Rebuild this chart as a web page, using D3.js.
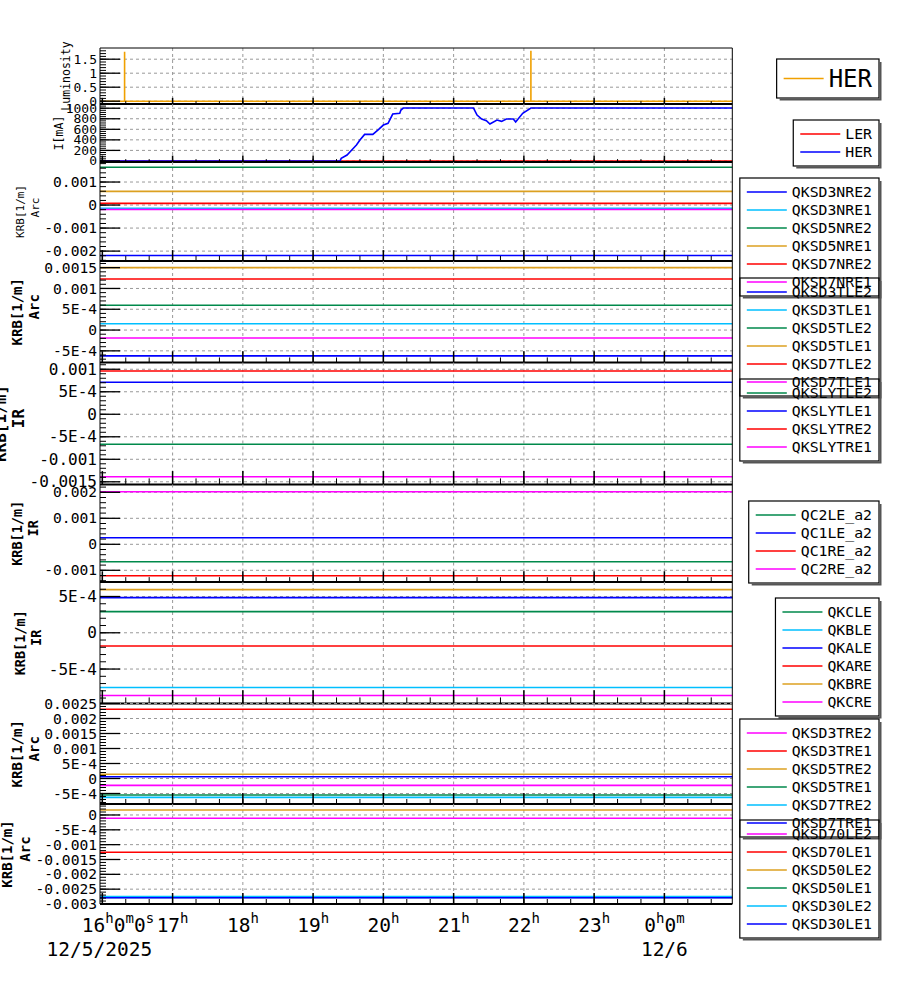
<!DOCTYPE html>
<html><head><meta charset="utf-8">
<script src="https://cdn.jsdelivr.net/npm/d3@7"></script>
<style>
body{margin:0;background:#fff}
svg{font-family:"DejaVu Sans Mono",monospace}
</style></head><body>
<svg id="chart" width="900" height="984"></svg>
<script>
// time window shown on the x axis
const tStart = "15:58", tEnd = "00:58"

// luminosity (HER) - flat zero with two short spikes
const lumiTimes = ["15:58","16:19","16:19","16:19","22:06","22:06","22:06","00:58"]
const lumiHER = [0, 0, 1.77, 0, 0, 1.8, 0, 0]

// beam currents
const curTimes = ["15:58","19:23","19:24","19:29","19:33","19:37","19:40","19:44","19:51","19:56","20:00","20:04",
  "20:08","20:14","20:15","20:17","21:17","21:20","21:24","21:28","21:31","21:37","21:41","21:45","21:51","21:53",
  "21:59","22:06","00:58"]
const curHER = [0,0,49,112,207,302,396,504,504,599,681,713,
  889,903,965,1003,1003,870,795,762,700,776,751,795,795,738,
  903,1003,1003]
const curLERTimes = ["15:58","00:58"]
const curLER = [0, 0]

// skew quad strengths, constant over the window
const arcNRNames = ["QKSD3NRE2","QKSD3NRE1","QKSD5NRE2","QKSD5NRE1","QKSD7NRE2","QKSD7NRE1"]
const arcNRValues = [-0.00219, -0.00014, 0.00164, 0.000596, 0.000074, -0.00019]

const arcTLNames = ["QKSD3TLE2","QKSD3TLE1","QKSD5TLE2","QKSD5TLE1","QKSD7TLE2","QKSD7TLE1"]
const arcTLValues = [-0.00062, 0.00015, 0.000595, 0.0015, 0.001226, -0.00019]

const irLYNames = ["QKSLYTLE2","QKSLYTLE1","QKSLYTRE2","QKSLYTRE1"]
const irLYValues = [-0.000667, 0.000711, 0.000962, -0.001387]

const irQCNames = ["QC2LE_a2","QC1LE_a2","QC1RE_a2","QC2RE_a2"]
const irQCValues = [-0.00067, 0.000254, -0.00121, 0.00202]

const irQKNames = ["QKCLE","QKBLE","QKALE","QKARE","QKBRE","QKCRE"]
const irQKValues = [0.000292, -0.000755, 0.000485, -0.000182, 0.000595, -0.000865]

const arcTRNames = ["QKSD3TRE2","QKSD3TRE1","QKSD5TRE2","QKSD5TRE1","QKSD7TRE2","QKSD7TRE1"]
const arcTRValues = [-0.00023, 0.00231, 0.00014, -0.00055, -0.00063, 0.00006]

const arcOLNames = ["QKSD70LE2","QKSD70LE1","QKSD50LE2","QKSD50LE1","QKSD30LE2","QKSD30LE1"]
const arcOLValues = [-0.00011, -0.001257, 0.000169, -0.00278, -0.00275, -0.00279]

// y tick values
const lumiTicks = [0, 0.5, 1, 1.5]
const curTicks = [0, 200, 400, 600, 800, 1000]
const arcNRTicks = [-0.002, -0.001, 0, 0.001]
const arcTLTicks = [-0.0005, 0, 0.0005, 0.001, 0.0015]
const irLYTicks = [-0.0015, -0.001, -0.0005, 0, 0.0005, 0.001]
const irQCTicks = [-0.001, 0, 0.001, 0.002]
const irQKTicks = [-0.0005, 0, 0.0005]
const arcTRTicks = [-0.0005, 0, 0.0005, 0.001, 0.0015, 0.002, 0.0025]
const arcOLTicks = [-0.003, -0.0025, -0.002, -0.0015, -0.001, -0.0005, 0]

// x tick labels
const hourLabels = ["16h0m0s","17h","18h","19h","20h","21h","22h","23h","0h0m"]
const dateLabels = ["12/5/2025","","","","","","","","12/6"]

const C = {blue:"#0000ff", cyan:"#00bfff", green:"#00894b", gold:"#dca020", red:"#ff0000", magenta:"#ff00ff", orange:"#f0a000"}
const six1 = [C.blue, C.cyan, C.green, C.gold, C.red, C.magenta]

function tp(s){
    let [h, m] = s.split(":").map(Number)
    return new Date(2025, 11, h < 12 ? 6 : 5, h, m)
}
function flat(v){ return [{t: tp(tStart), v: v}, {t: tp(tEnd), v: v}] }
function zipSeries(times, vals){ return times.map((t, i) => ({t: tp(t), v: vals[i]})) }

const panels = [
    {top:48, bottom:104, domain:[-0.1,1.9], ticks:lumiTicks, tickSize:13,
     label:[{s:"Luminosity", x:70, dy:0}], labelSize:11.5, bold:false,
     series:[{name:"HER", color:C.orange, data:zipSeries(lumiTimes, lumiHER)}],
     legendTop:59, rowH:29, legendSize:24},
    {top:104, bottom:162, domain:[-20,1080], ticks:curTicks, tickSize:13,
     label:[{s:"I[mA]", x:63, dy:0}], labelSize:11.5, bold:false,
     series:[{name:"LER", color:C.red, data:zipSeries(curLERTimes, curLER)},
             {name:"HER", color:C.blue, data:zipSeries(curTimes, curHER)}],
     legendTop:120, rowH:18, legendSize:14.8},
    {top:162, bottom:261, domain:[-0.00243,0.00187], ticks:arcNRTicks, tickSize:14.6,
     label:[{s:"KRB[1/m]", x:24, dy:0},{s:"Arc", x:39, dy:-4}], labelSize:11, bold:false,
     names:arcNRNames, values:arcNRValues, colors:six1, legendTop:178},
    {top:261, bottom:362.5, domain:[-0.00078,0.00166], ticks:arcTLTicks, tickSize:14.6,
     label:[{s:"KRB[1/m]", x:21.5, dy:0},{s:"Arc", x:38.5, dy:-5}], labelSize:14, bold:true,
     names:arcTLNames, values:arcTLValues, colors:six1, legendTop:278},
    {top:362.5, bottom:484.5, domain:[-0.00156,0.00115], ticks:irLYTicks, tickSize:16,
     label:[{s:"KRB[1/m]", x:6, dy:0},{s:"IR", x:23.5, dy:-5}], labelSize:16, bold:true,
     names:irLYNames, values:irLYValues, colors:[C.green, C.blue, C.red, C.magenta], legendTop:379},
    {top:484.5, bottom:582, domain:[-0.00145,0.0023], ticks:irQCTicks, tickSize:14.6,
     label:[{s:"KRB[1/m]", x:21.5, dy:0},{s:"IR", x:38, dy:-5}], labelSize:13.5, bold:true,
     names:irQCNames, values:irQCValues, colors:[C.green, C.blue, C.red, C.magenta], legendTop:501},
    {top:582, bottom:703.5, domain:[-0.000975,0.0007], ticks:irQKTicks, tickSize:16,
     label:[{s:"KRB[1/m]", x:25, dy:0},{s:"IR", x:41, dy:-5}], labelSize:13.5, bold:true,
     names:irQKNames, values:irQKValues, colors:[C.green, C.cyan, C.blue, C.red, C.gold, C.magenta], legendTop:598},
    {top:703.5, bottom:804, domain:[-0.00085,0.0025], ticks:arcTRTicks, tickSize:14.6,
     label:[{s:"KRB[1/m]", x:21.5, dy:0},{s:"Arc", x:39, dy:-5}], labelSize:14, bold:true,
     names:arcTRNames, values:arcTRValues, colors:[C.magenta, C.red, C.gold, C.green, C.cyan, C.blue], legendTop:719},
    {top:804, bottom:904, domain:[-0.003,0.00037], ticks:arcOLTicks, tickSize:14.6,
     label:[{s:"KRB[1/m]", x:11.5, dy:0},{s:"Arc", x:30, dy:-5}], labelSize:14, bold:true,
     names:arcOLNames, values:arcOLValues, colors:[C.magenta, C.red, C.gold, C.green, C.cyan, C.blue], legendTop:820}
]

const left = 100, right = 732.3, legendRight = 879
const x = d3.scaleTime().domain([tp(tStart), tp(tEnd)]).range([left, right])
const hours = d3.timeHour.range(tp("16:00"), tp(tEnd))
const minors = d3.timeMinute.every(20).range(tp("16:00"), tp(tEnd))

const svg = d3.select("#chart")

function fmtTick(v){
    if (v === 0) return "0"
    if (Math.abs(Math.abs(v) - 0.0005) < 1e-12) return (v < 0 ? "-" : "") + "5E-4"
    return String(+v.toPrecision(6))
}

panels.forEach(function(p){
    // build series from names/values for the constant panels
    if (!p.series) p.series = p.names.map((n, i) => ({name:n, color:p.colors[i], data:flat(p.values[i])}))

    let y = d3.scaleLinear().domain(p.domain).range([p.bottom, p.top])
    let h = p.bottom - p.top
    let g = svg.append("g")

    // grid
    g.selectAll(".hg").data(p.ticks).join("line")
        .attr("x1", left).attr("x2", right)
        .attr("y1", d => y(d)).attr("y2", d => y(d))
        .attr("stroke", "#999").attr("stroke-dasharray", "3,3")
    g.selectAll(".vg").data(hours.slice(1)).join("line")
        .attr("x1", d => x(d)).attr("x2", d => x(d))
        .attr("y1", p.top).attr("y2", p.bottom)
        .attr("stroke", "#999").attr("stroke-dasharray", "3,3")

    // series
    let line = d3.line().x(d => x(d.t)).y(d => y(d.v))
    p.series.forEach(function(s){
        g.append("path").datum(s.data).attr("d", line)
            .attr("fill", "none").attr("stroke", s.color).attr("stroke-width", 1.6)
    })

    // y ticks (major + minor, inward)
    let step = (p.ticks[1] - p.ticks[0]) / 5
    let minorY = d3.range(Math.ceil(p.domain[0] / step), Math.floor(p.domain[1] / step) + 1).map(k => k * step)
    g.selectAll(".ymn").data(minorY).join("line")
        .attr("x1", left).attr("x2", left + 6)
        .attr("y1", d => y(d)).attr("y2", d => y(d)).attr("stroke", "#000")
    g.selectAll(".ymj").data(p.ticks).join("line")
        .attr("x1", left).attr("x2", left + 20)
        .attr("y1", d => y(d)).attr("y2", d => y(d)).attr("stroke", "#000").attr("stroke-width", 1.3)
    g.selectAll(".ytl").data(p.ticks).join("text")
        .attr("x", left - 3).attr("y", d => y(d)).attr("dy", "0.35em")
        .attr("text-anchor", "end").attr("font-size", p.tickSize)
        .text(fmtTick)

    // x ticks at the bottom of each panel
    g.selectAll(".xmn").data(minors).join("line")
        .attr("x1", d => x(d)).attr("x2", d => x(d))
        .attr("y1", p.bottom).attr("y2", p.bottom - h * 0.05).attr("stroke", "#000")
    g.selectAll(".xmj").data(hours).join("line")
        .attr("x1", d => x(d)).attr("x2", d => x(d))
        .attr("y1", p.bottom).attr("y2", p.bottom - h * 0.11).attr("stroke", "#000").attr("stroke-width", 1.5)

    // bottom border
    g.append("line").attr("x1", left).attr("x2", right).attr("y1", p.bottom).attr("y2", p.bottom)
        .attr("stroke", "#000").attr("stroke-width", 2)

    // axis label
    let cy = (p.top + p.bottom) / 2
    p.label.forEach(function(l){
        g.append("text").attr("transform", `translate(${l.x},${cy + l.dy}) rotate(-90)`)
            .attr("text-anchor", "middle").attr("font-size", p.labelSize)
            .attr("font-weight", p.bold ? "bold" : "normal").text(l.s)
    })

    // legend
    let rowH = p.rowH || 18, fs = p.legendSize || 14.8
    let lg = svg.append("g")
    let texts = p.series.map((s, i) => lg.append("text")
        .attr("y", p.legendTop + 5 + rowH * (i + 0.5)).attr("dy", "0.35em")
        .attr("font-size", fs).text(s.name))
    let tw = d3.max(texts, t => t.node().getComputedTextLength())
    let textX = legendRight - 7 - tw
    let boxL = textX - 5 - 40 - 7
    let boxH = rowH * p.series.length + 10
    texts.forEach(t => t.attr("x", textX))
    p.series.forEach(function(s, i){
        let ly = p.legendTop + 5 + rowH * (i + 0.5)
        lg.append("line").attr("x1", textX - 45).attr("x2", textX - 5)
            .attr("y1", ly).attr("y2", ly).attr("stroke", s.color).attr("stroke-width", 1.5)
    })
    lg.append("rect").attr("x", boxL).attr("y", p.legendTop)
        .attr("width", legendRight - boxL).attr("height", boxH)
        .attr("fill", "none").attr("stroke", "#000").attr("stroke-width", 1.2)
    lg.append("path")
        .attr("d", `M${legendRight + 1.5},${p.legendTop + 3}V${p.legendTop + boxH + 1.5}H${boxL + 3}`)
        .attr("fill", "none").attr("stroke", "#555").attr("stroke-width", 2)
})

// frame
svg.append("line").attr("x1", left).attr("x2", right).attr("y1", 48).attr("y2", 48).attr("stroke", "#000")
svg.append("line").attr("x1", left).attr("x2", left).attr("y1", 48).attr("y2", 904).attr("stroke", "#000")
svg.append("line").attr("x1", right).attr("x2", right).attr("y1", 48).attr("y2", 904).attr("stroke", "#000")

// bottom time labels with superscript units
hours.forEach(function(d, i){
    let t = svg.append("text").attr("y", 931.5).attr("font-size", 19.5)
    if (i === 0) t.attr("x", x(d) - 20.5).attr("text-anchor", "start")
    else t.attr("x", x(d)).attr("text-anchor", "middle")
    let up = false
    hourLabels[i].match(/\d+|[hms]/g).forEach(function(tok){
        let isUnit = /[hms]/.test(tok)
        let ts = t.append("tspan").text(tok)
        if (isUnit) { ts.attr("font-size", 14); if (!up) { ts.attr("dy", -9); up = true } }
        else if (up) { ts.attr("dy", 9); up = false }
    })
    if (dateLabels[i]) {
        svg.append("text").attr("x", i === 0 ? x(d) - 3 : x(d)).attr("y", 955.5).attr("text-anchor", "middle")
            .attr("font-size", 19.5).text(dateLabels[i])
    }
})
</script>
</body></html>
